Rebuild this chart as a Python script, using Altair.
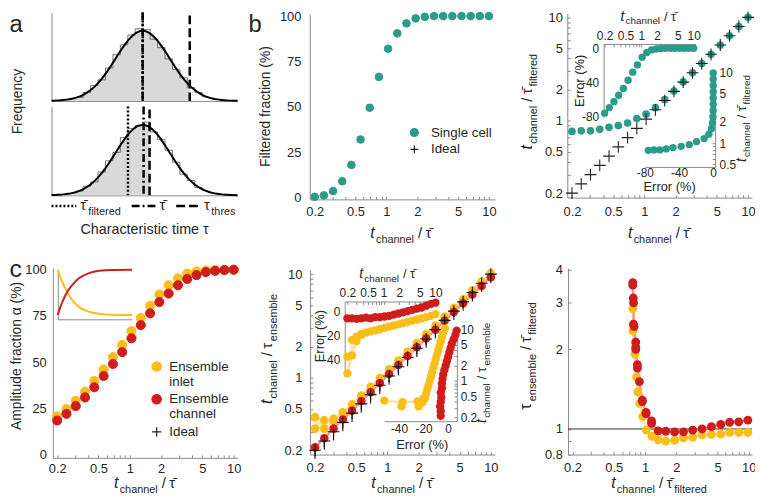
import altair as alt
import pandas as pd

# ---------------- data ----------------
T = [0.2, 0.2457, 0.3019, 0.371, 0.4558, 0.5601, 0.6882, 0.8456, 1.039, 1.277,
     1.569, 1.927, 2.368, 2.91, 3.575, 4.393, 5.398, 6.632, 8.149, 10.0]

# panel a : distribution of characteristic times
G_TAU = [0.0, 0.15, 0.4, 0.65, 0.9, 1.15, 1.4, 1.65, 1.9, 2.15, 2.4, 2.65, 2.9, 3.15,
         3.4, 3.65, 3.9, 4.15, 4.4, 4.65, 4.9, 5.15, 5.4, 5.65, 5.9, 6.15, 6.4, 6.65,
         6.9, 7.15, 7.4, 7.65, 7.9, 8.15, 8.4, 8.65, 8.9, 9.15, 9.4, 9.65, 10.0]
G_VAL = [0.0033, 0.0047, 0.0081, 0.0136, 0.0222, 0.0353, 0.054, 0.081, 0.118, 0.166,
         0.226, 0.300, 0.386, 0.483, 0.586, 0.690, 0.788, 0.875, 0.942, 0.985, 1.0,
         0.985, 0.942, 0.875, 0.788, 0.690, 0.586, 0.483, 0.386, 0.300, 0.226, 0.166,
         0.118, 0.081, 0.054, 0.0353, 0.0222, 0.0136, 0.0081, 0.0047, 0.002]
HIST_C = [1.5, 1.9, 2.3, 2.7, 3.1, 3.5, 3.9, 4.3, 4.7, 5.1, 5.5, 5.9, 6.3, 6.7, 7.1, 7.5, 7.9, 8.3]
HIST_TOP = [0.05, 0.12, 0.22, 0.30, 0.47, 0.66, 0.80, 0.94, 1.03, 1.02, 0.88, 0.76, 0.60, 0.45, 0.33, 0.19, 0.12, 0.06]
HIST_BOT = [0.06, 0.13, 0.19, 0.33, 0.49, 0.61, 0.82, 0.95, 0.99, 1.04, 0.90, 0.79, 0.64, 0.47, 0.30, 0.21, 0.11, 0.07]
TOP_THR, TOP_THR_G = 7.43, 0.218
BOT_THR, BOT_THR_G = 5.27, 0.968
TOP_MARKS = {"tau": [4.9, 4.9, 7.43], "kind": ["dot", "dashdot", "dash"], "top": [1.26, 1.26, 1.22]}
BOT_MARKS = {"tau": [4.11, 4.95, 5.27], "kind": ["dot", "dashdot", "dash"], "top": [1.26, 1.26, 1.22]}

# panel b
B_FRAC = [0.4, 1.2, 3.6, 9, 18, 32, 49.5, 66.5, 82, 90.5, 96, 98.7, 99.6, 100, 100, 100, 100, 100, 100, 100]
B_RATIO = [0.79, 0.80, 0.80, 0.828, 0.865, 0.90, 0.95, 1.05, 1.16, 1.34, 1.60, 1.94, 2.375,
           2.913, 3.575, 4.393, 5.398, 6.632, 8.149, 10.0]
B_ERR = [-76, -69.5, -62.5, -55, -47, -37.5, -28, -19.5, -10.5, -5, -2, -0.8, -0.3, -0.1,
         0, 0, 0, 0, 0, 0]

# panel c left
C_IN = [20.6, 24.6, 29.1, 34, 39.8, 46, 52.7, 59.3, 66.8, 73.9, 80.5, 86.6, 91.6, 95.3,
        97.9, 99.1, 99.6, 99.9, 100, 100]
C_CH = [18.4, 22, 26.2, 30.9, 36.4, 42.5, 49, 55.4, 62.9, 70, 76.4, 82.5, 87.1, 91.6, 95,
        97.1, 98.7, 99.4, 99.8, 100]
INS_T = [0, 0.0333, 0.0667, 0.1, 0.133, 0.2, 0.289, 0.422, 0.556, 0.73, 1.0]
INS_RED = [0.086, 0.24, 0.366, 0.475, 0.566, 0.70, 0.834, 0.934, 0.98, 0.998, 1.0]
INS_YEL = [1.0, 0.86, 0.734, 0.63, 0.534, 0.38, 0.246, 0.154, 0.114, 0.092, 0.085]

# panel c middle
CM_YA = [0.417, 0.390, 0.403, 0.458, 0.556, 0.675, 0.819, 0.995, 1.208, 1.468, 1.783,
         2.165, 2.631, 3.198, 3.886, 4.724, 5.743, 6.981, 8.489, 10.26]
CM_YB = [0.323, 0.323, 0.382, 0.464]
CM_R = [0.213, 0.261, 0.323, 0.395, 0.482, 0.596, 0.724, 0.890, 1.088, 1.330, 1.618,
        1.966, 2.392, 2.910, 3.540, 4.307, 5.241, 6.346, 7.688, 9.346]
CM_LOW = [0.165, 0.202, 0.248, 0.305, 0.375, 0.46, 0.566, 0.695, 0.854, 1.05, 1.29, 1.584,
          1.946, 2.39, 2.94, 3.61, 4.44, 5.45, 6.70, 8.22]
CM_EYA = [-52, -37, -25, -19, -18, -17, -16, -15, -14, -13, -12, -11, -10, -9, -8, -7,
          -6, -5, -4, -2.5]
CM_EYB = [-38, -24, -21, -20]
CM_ER = [-6, -6, -6.5, -6, -5.5, -6, -5, -5, -4.5, -4, -3, -2, -1, 0, 1, 2, 3, 4.5, 6, 7]

# panel c right
CR_RX = [0.762, 0.762, 0.77, 0.775, 0.775, 0.785, 0.814, 0.814, 0.814, 0.845, 0.845, 0.883,
         0.942, 0.942, 1.022, 1.022, 1.156, 1.156, 1.339, 1.585, 1.93, 2.35, 2.88, 3.55,
         4.36, 5.37, 6.54, 8.0, 9.8]
CR_RY = [3.58, 3.50, 3.13, 3.0, 2.49, 2.44, 2.13, 2.04, 2.0, 1.75, 1.70, 1.51, 1.285, 1.27,
         1.156, 1.14, 1.072, 1.049, 0.984, 0.98, 0.975, 0.975, 0.99, 1.0, 1.02, 1.04, 1.06,
         1.064, 1.08]
CR_YX = [0.762, 0.77, 0.762, 0.8, 0.83, 0.85, 0.89, 0.95, 1.03, 1.17, 1.34, 1.585, 1.93,
         2.35, 2.88, 3.55, 4.36, 5.37, 6.54, 8.0, 9.8]
CR_YY = [2.85, 2.49, 2.35, 1.92, 1.57, 1.38, 1.25, 1.114, 0.99, 0.937, 0.91, 0.90, 0.905,
         0.925, 0.93, 0.95, 0.953, 0.957, 0.97, 0.97, 0.97]

LOG_TICKS = [0.2, 0.5, 1, 2, 5, 10]
MINOR = [0.2, 0.3, 0.4, 0.5, 0.6, 0.7, 0.8, 0.9, 1, 2, 3, 4, 5, 6, 7, 8, 9, 10]
MINOR_HALF = [0.5, 0.6, 0.7, 0.8, 0.9, 1, 2, 3, 4, 5, 6, 7, 8, 9, 10]
MINOR_R = [0.8, 0.9, 1, 2, 3, 4]

# ---------------- style ----------------
W, H = 755, 494
FONT = "Liberation Sans"
TXT = "#262626"
AX = "#8a8a8a"
TEAL = "#2a9c88"
YEL = "#fbbd17"
RED = "#d01c1c"
LYEL = "#fbe3a0"
LRED = "#ee9a90"
GREY = "#d9d9d9"
CROSS = "M-1,0H1M0,-1V1"
DUMMY = pd.DataFrame({"k": [0]})


def px(x):
    return x - 8


def py(y):
    return y - 8


def xs(dom, a, b, log=True):
    if log:
        return alt.Scale(type="log", domain=dom, range=[px(a), px(b)], nice=False)
    return alt.Scale(type="linear", domain=dom, range=[px(a), px(b)], nice=False, zero=False)


def ys(dom, bottom, top, log=True):
    if log:
        return alt.Scale(type="log", domain=dom, range=[py(bottom), py(top)], nice=False)
    return alt.Scale(type="linear", domain=dom, range=[py(bottom), py(top)], nice=False, zero=False)


def offset_for(orient, pos):
    if orient == "bottom":
        return py(pos) - H
    if orient == "top":
        return -py(pos)
    if orient == "left":
        return -px(pos)
    return px(pos) - W


def ax(orient, pos, values=None, fs=13, pad=4, labels=True):
    kw = dict(orient=orient, offset=offset_for(orient, pos), title=None, grid=False, ticks=False,
              domainColor=AX, domainWidth=1, labels=labels, labelFont=FONT,
              labelFontSize=fs, labelColor=TXT, labelPadding=pad, labelFlush=False,
              labelOverlap=False, labelExpr="'' + datum.value")
    if values is not None:
        kw["values"] = values
    return alt.Axis(**kw)


def tick_ax(orient, pos, values, size=3):
    # an axis of ticks only, flipped so that the ticks point into the plot
    return alt.Axis(orient=orient, offset=offset_for(orient, pos), values=values, ticks=True,
                    tickSize=size, tickColor=AX, tickWidth=1, labels=False, domain=False,
                    grid=False, title=None)


def tick_layer(xscale, xorient, xpos, xvals, yscale, yorient, ypos, yvals):
    d = pd.DataFrame({"a": [xscale.domain[0]], "b": [yscale.domain[0]]})
    xa = tick_ax(xorient, xpos, xvals) if xvals else None
    ya = tick_ax(yorient, ypos, yvals) if yvals else None
    return alt.Chart(d).mark_point(opacity=0).encode(
        x=alt.X("a:Q", scale=xscale, axis=xa), y=alt.Y("b:Q", scale=yscale, axis=ya))


def text(txt, x, y, fs, angle=0, align="left", baseline="alphabetic", italic=False):
    return alt.Chart(DUMMY).mark_text(
        text=txt, font=FONT, fontSize=fs, angle=angle, align=align, baseline=baseline,
        fontStyle="italic" if italic else "normal", color=TXT
    ).encode(x=alt.value(px(x)), y=alt.value(py(y)))


CW = {"t": .278, "c": .5, "h": .556, "a": .556, "n": .556, "e": .556, "l": .222, " ": .278,
      "/": .278, "τ": .46, "\u0304": 0, "f": .278, "i": .222, "r": .333, "d": .556,
      "s": .5, "m": .833, "b": .556}


def tw(s, fs):
    return sum(CW.get(ch, .556) for ch in s) * fs


def frac_title(num, num_sub, den, den_sub, cx, cy, vertical=False, big=16, mid=15, small=11,
               drop=4.5):
    # (text, size, baseline drop, italic, extra space after)
    parts = [(num, big, 0, num == "t", 1.2), (num_sub, small, drop, False, 4.0),
             ("/", mid, 0, False, 3.5), (den, mid, 0, False, 0.8)]
    if den_sub:
        parts.append((den_sub, small, drop, False, 0))
    widths = [tw(p[0], p[1]) + p[4] for p in parts]
    total = sum(widths)
    out = []
    acc = 0
    for (s, fs, d, it, _), w in zip(parts, widths):
        if vertical:
            out.append(text(s, cx + d, cy + total / 2 - acc, fs, angle=270, italic=it))
        else:
            out.append(text(s, cx - total / 2 + acc, cy + d, fs, italic=it))
        acc += w
    return out


L = []

# ---------------- panel a ----------------
gdf = pd.DataFrame({"tau": G_TAU, "g": G_VAL})


def hist_panel(top, bottom, thr, thr_g, hist, marks):
    xsc = xs([0, 10], 52, 240, log=False)
    ysc = ys([0, 1.26], bottom, top, log=False)
    fd = gdf[gdf.tau <= thr]
    fd = pd.concat([fd, pd.DataFrame({"tau": [thr], "g": [thr_g]})], ignore_index=True)
    L.append(alt.Chart(fd).mark_area(color=GREY).encode(
        x=alt.X("tau:Q", scale=xsc, axis=ax("bottom", bottom, labels=False)),
        y=alt.Y("g:Q", scale=ysc, axis=ax("left", 52, labels=False))))
    hd = pd.DataFrame({"c": HIST_C, "h": hist})
    L.append(alt.Chart(hd).mark_line(interpolate="step", color="#555", strokeWidth=0.8).encode(
        x=alt.X("c:Q", scale=xsc, axis=None), y=alt.Y("h:Q", scale=ysc, axis=None)))
    L.append(alt.Chart(gdf).mark_line(interpolate="monotone", color="black", strokeWidth=2).encode(
        x=alt.X("tau:Q", scale=xsc, axis=None), y=alt.Y("g:Q", scale=ysc, axis=None)))
    md = pd.DataFrame(marks).assign(bot=0.0)
    L.append(alt.Chart(md).mark_rule(color="black", strokeWidth=2.5).encode(
        x=alt.X("tau:Q", scale=xsc, axis=None),
        y=alt.Y("top:Q", scale=ysc, axis=None), y2="bot:Q",
        strokeDash=alt.StrokeDash("kind:N", scale=alt.Scale(
            domain=["dot", "dashdot", "dash"], range=[[2, 2], [8, 3, 2, 3], [9, 4]]), legend=None)))


hist_panel(10, 99.3, TOP_THR, TOP_THR_G, HIST_TOP, TOP_MARKS)
hist_panel(105, 194.7, BOT_THR, BOT_THR_G, HIST_BOT, BOT_MARKS)

# key under panel a
for (x0, x1, dash) in [(52, 77, [2, 2]), (133, 158, [8, 3, 2, 3]), (178, 201, [9, 4])]:
    L.append(alt.Chart(DUMMY).mark_rule(color="black", strokeWidth=2.5, strokeDash=dash).encode(
        x=alt.value(px(x0)), x2=alt.value(px(x1)), y=alt.value(py(205.5))))
L += [text("τ\u0304", 81, 209.5, 15), text("filtered", 89, 214.5, 11),
      text("τ\u0304", 161, 209.5, 15),
      text("τ", 206, 209.5, 15), text("thres", 213.5, 214.5, 11),
      text("Characteristic time τ", 146, 234, 14.5, align="center"),
      text("Frequency", 22, 100, 14, angle=270, align="center")]

# ---------------- panel b left ----------------
dom_b = ["Single cell", "Ideal"]
leg_b = dict(orient="none", legendX=px(412), legendY=py(124.5), title=None, labelFont=FONT,
             labelFontSize=13.5, labelColor=TXT, symbolSize=64, symbolStrokeWidth=1.2,
             labelOffset=10, rowPadding=2, padding=0)
bl = pd.DataFrame({"t": T, "v": B_FRAC, "s": ["Single cell"] * len(T)})
blx = xs([0.179, 11.4], 313, 500)
bly = ys([-1, 101], 198.8, 11.7, log=False)
L.append(tick_layer(blx, "top", 198.8, MINOR, bly, "right", 313, None))
L.append(alt.Chart(bl).mark_point(filled=True, size=60, opacity=1, strokeWidth=1).encode(
    x=alt.X("t:Q", scale=blx, axis=ax("bottom", 198.8, LOG_TICKS, pad=6.4)),
    y=alt.Y("v:Q", scale=bly, axis=ax("left", 313, [0, 25, 50, 75, 100], pad=9)),
    fill=alt.Fill("s:N", scale=alt.Scale(domain=dom_b, range=[TEAL, "#222"]), legend=alt.Legend(**leg_b)),
    stroke=alt.Stroke("s:N", scale=alt.Scale(domain=dom_b, range=[TEAL, "#222"]), legend=alt.Legend(**leg_b)),
    shape=alt.Shape("s:N", scale=alt.Scale(domain=dom_b, range=["circle", CROSS]), legend=alt.Legend(**leg_b))))
L.append(text("Filtered fraction (%)", 273, 105, 14, angle=270, align="center"))
L += frac_title("t", "channel", "τ\u0304", None, 406, 238)

# ---------------- panel b right ----------------
br = pd.DataFrame({"t": T, "r": B_RATIO, "e": B_ERR})
bx = xs([0.1804, 10.9], 573.3, 759.9)
by = ys([0.181, 10.9], 197, 10.9)
L.append(tick_layer(bx, "top", 197, MINOR, by, "right", 573.3, MINOR))
L.append(alt.Chart(br).mark_point(filled=True, size=60, opacity=1, color=TEAL).encode(
    x=alt.X("t:Q", scale=bx, axis=ax("bottom", 197, LOG_TICKS, pad=8.5)),
    y=alt.Y("r:Q", scale=by, axis=ax("left", 573.3, LOG_TICKS, pad=5))))
L.append(alt.Chart(br).mark_point(shape=CROSS, filled=False, size=144, opacity=1, color="#222",
                                  strokeWidth=1.1).encode(
    x=alt.X("t:Q", scale=bx, axis=None), y=alt.Y("t:Q", scale=by, axis=None)))
L += frac_title("t", "channel", "τ\u0304", None, 666.5, 238)
L += frac_title("t", "channel", "τ\u0304", "filtered", 538, 100, vertical=True)
# inset 1 (error vs t)
b1x = xs([0.1915, 10.91], 610, 703)
b1y = ys([-81, 5], 116, 41.7, log=False)
L.append(tick_layer(b1x, "bottom", 41.7, MINOR, b1y, "right", 610, None))
L.append(alt.Chart(br).mark_point(filled=True, size=55, opacity=1, color=TEAL).encode(
    x=alt.X("t:Q", scale=b1x, axis=ax("top", 41.7, LOG_TICKS, fs=12, pad=2)),
    y=alt.Y("e:Q", scale=b1y, axis=ax("left", 610, [0, -40, -80], fs=12, pad=5))))
L.append(text("Error (%)", 590, 79, 13, angle=270, align="center"))
L += frac_title("t", "channel", "τ\u0304", None, 656, 18, big=14, mid=13, small=10, drop=4)
# inset 2 (ratio vs error)
b2x = xs([-80, 2.3], 651.7, 722.7, log=False)
b2y = ys([0.458, 11.0], 166, 68)
L.append(tick_layer(b2x, "top", 166, None, b2y, "left", 722.7, MINOR_HALF))
L.append(alt.Chart(br).mark_point(filled=True, size=55, opacity=1, color=TEAL).encode(
    x=alt.X("e:Q", scale=b2x, axis=ax("bottom", 166, [-80, -40, 0], fs=12, pad=0.5)),
    y=alt.Y("r:Q", scale=b2y, axis=ax("right", 722.7, [0.5, 1, 2, 5, 10], fs=12, pad=4))))
L.append(text("Error (%)", 676.7, 190.5, 13, align="center"))
L += frac_title("t", "channel", "τ\u0304", "filtered", 753.5, 117, vertical=True, big=14, mid=13,
                small=10, drop=4)

# ---------------- panel c left ----------------
dom_c = ["Ensemble|inlet", "Ensemble|channel", "Ideal"]
leg_c = dict(orient="none", legendX=px(151.5), legendY=py(361), title=None, labelFont=FONT,
             labelFontSize=13.5, labelColor=TXT, symbolSize=90, symbolStrokeWidth=1.2,
             labelOffset=6, rowPadding=3, padding=0, labelExpr="split(datum.label, '|')")
cl = pd.DataFrame({"t": T + T, "v": C_IN + C_CH,
                   "s": ["Ensemble|inlet"] * len(T) + ["Ensemble|channel"] * len(T)})
clx = xs([0.1816, 10.9], 53.3, 240)
cly = ys([-1.8, 101], 460, 268, log=False)
L.append(tick_layer(clx, "top", 460, MINOR, cly, "right", 53.3, None))
L.append(alt.Chart(cl).mark_point(filled=True, size=85, opacity=1, strokeWidth=1).encode(
    x=alt.X("t:Q", scale=clx, axis=ax("bottom", 460, LOG_TICKS, pad=4.5)),
    y=alt.Y("v:Q", scale=cly, axis=ax("left", 53.3, [0, 25, 50, 75, 100], pad=6.6)),
    fill=alt.Fill("s:N", scale=alt.Scale(domain=dom_c, range=[YEL, RED, "#222"]), legend=alt.Legend(**leg_c)),
    stroke=alt.Stroke("s:N", scale=alt.Scale(domain=dom_c, range=[YEL, RED, "#222"]), legend=alt.Legend(**leg_c)),
    shape=alt.Shape("s:N", scale=alt.Scale(domain=dom_c, range=["circle", "circle", CROSS]), legend=alt.Legend(**leg_c))))
L.append(text("Amplitude fraction α (%)", 21, 357, 14, angle=270, align="center"))
L += frac_title("t", "channel", "τ\u0304", None, 147, 491)
# inset with the two exponential curves
ins = pd.DataFrame({"t": INS_T + INS_T, "v": INS_YEL + INS_RED,
                    "s": ["in"] * len(INS_T) + ["ch"] * len(INS_T)})
L.append(alt.Chart(ins).mark_line(interpolate="monotone", strokeWidth=2).encode(
    x=alt.X("t:Q", scale=xs([0, 1], 58.3, 133.3, log=False), axis=ax("bottom", 320, labels=False)),
    y=alt.Y("v:Q", scale=ys([0, 1], 320, 270, log=False), axis=ax("left", 58.3, labels=False)),
    color=alt.Color("s:N", scale=alt.Scale(domain=["in", "ch"], range=[YEL, RED]), legend=None)))

# ---------------- panel c middle ----------------
cm = pd.DataFrame({"t": T, "ya": CM_YA, "r": CM_R, "eya": CM_EYA, "er": CM_ER, "low": CM_LOW,
                   "i": list(range(len(T)))})
cmb = pd.DataFrame({"t": T[:4], "ya": CM_YA[:4], "yb": CM_YB, "eya": CM_EYA[:4], "eyb": CM_EYB})
mx = xs([0.179, 10.92], 313.3, 500)
my = ys([0.1816, 10.99], 456.7, 270)
L.append(tick_layer(mx, "top", 456.7, MINOR, my, "right", 313.3, MINOR))
L.append(alt.Chart(cmb).mark_area(color=LYEL, opacity=0.8).encode(
    x=alt.X("t:Q", scale=mx, axis=ax("bottom", 456.7, LOG_TICKS, pad=7.6)),
    y=alt.Y("ya:Q", scale=my, axis=ax("left", 313.3, LOG_TICKS, pad=8.3)), y2="yb:Q"))
L.append(alt.Chart(cm).mark_line(color=LYEL, strokeWidth=2.5).encode(
    x=alt.X("t:Q", scale=mx, axis=None), y=alt.Y("ya:Q", scale=my, axis=None)))
L.append(alt.Chart(cm).mark_line(color=LRED, strokeWidth=2.5).encode(
    x=alt.X("t:Q", scale=mx, axis=None), y=alt.Y("r:Q", scale=my, axis=None)))
L.append(alt.Chart(cmb).mark_point(filled=True, size=75, opacity=1, color=YEL).encode(
    x=alt.X("t:Q", scale=mx, axis=None), y=alt.Y("yb:Q", scale=my, axis=None)))
L.append(alt.Chart(cm).mark_point(filled=True, size=75, opacity=1, color=YEL).encode(
    x=alt.X("t:Q", scale=mx, axis=None), y=alt.Y("ya:Q", scale=my, axis=None)))
L.append(alt.Chart(cm).mark_point(filled=True, size=75, opacity=1, color=RED).encode(
    x=alt.X("t:Q", scale=mx, axis=None), y=alt.Y("r:Q", scale=my, axis=None)))
L.append(alt.Chart(cm).mark_rule(color="#111", strokeWidth=1.1).encode(
    x=alt.X("t:Q", scale=mx, axis=None), y=alt.Y("t:Q", scale=my, axis=None), y2="low:Q"))
L.append(alt.Chart(cm).mark_point(shape=CROSS, filled=False, size=144, opacity=1, color="#111",
                                  strokeWidth=1.1).encode(
    x=alt.X("t:Q", scale=mx, axis=None), y=alt.Y("t:Q", scale=my, axis=None)))
L += frac_title("t", "channel", "τ\u0304", None, 407, 491)
L += frac_title("t", "channel", "τ", "ensemble", 275, 350, vertical=True)
# inset 1 (error vs t)
ix = xs([0.1776, 10.9], 348.3, 442)
iy = ys([-50, 8], 372.3, 302, log=False)
L.append(tick_layer(ix, "bottom", 302, MINOR, iy, "right", 348.3, None))
L.append(alt.Chart(cmb).mark_area(color=LYEL, opacity=0.8).encode(
    x=alt.X("t:Q", scale=ix, axis=ax("top", 302, LOG_TICKS, fs=12, pad=2)),
    y=alt.Y("eya:Q", scale=iy, axis=ax("left", 348.3, [0, -20, -40], fs=12, pad=5)), y2="eyb:Q"))
L.append(alt.Chart(cm).mark_line(color=LYEL, strokeWidth=2.5).encode(
    x=alt.X("t:Q", scale=ix, axis=None), y=alt.Y("eya:Q", scale=iy, axis=None)))
L.append(alt.Chart(cmb).mark_point(filled=True, size=70, opacity=1, color=YEL).encode(
    x=alt.X("t:Q", scale=ix, axis=None), y=alt.Y("eyb:Q", scale=iy, axis=None)))
L.append(alt.Chart(cm).mark_point(filled=True, size=70, opacity=1, color=YEL).encode(
    x=alt.X("t:Q", scale=ix, axis=None), y=alt.Y("eya:Q", scale=iy, axis=None)))
L.append(alt.Chart(cm).mark_point(filled=True, size=70, opacity=1, color=RED).encode(
    x=alt.X("t:Q", scale=ix, axis=None), y=alt.Y("er:Q", scale=iy, axis=None)))
L.append(text("Error (%)", 327, 337, 13, angle=270, align="center"))
L += frac_title("t", "channel", "τ\u0304", None, 392, 278, big=14, mid=13, small=10, drop=4)
# inset 2 (ratio vs error)
jx = xs([-52, 7.2], 388.3, 461.7, log=False)
jy = ys([0.1675, 10.9], 423, 328)
L.append(tick_layer(jx, "top", 423, None, jy, "left", 461.7, MINOR))
L.append(alt.Chart(cm).mark_line(color=LYEL, strokeWidth=2.5).encode(
    x=alt.X("eya:Q", scale=jx, axis=ax("bottom", 423, [-40, -20, 0], fs=12, pad=2.5)),
    y=alt.Y("ya:Q", scale=jy, axis=ax("right", 461.7, LOG_TICKS, fs=12, pad=3.3)),
    order=alt.Order("i:Q")))
L.append(alt.Chart(cmb).mark_point(filled=True, size=70, opacity=1, color=YEL).encode(
    x=alt.X("eyb:Q", scale=jx, axis=None), y=alt.Y("yb:Q", scale=jy, axis=None)))
L.append(alt.Chart(cm).mark_point(filled=True, size=70, opacity=1, color=YEL).encode(
    x=alt.X("eya:Q", scale=jx, axis=None), y=alt.Y("ya:Q", scale=jy, axis=None)))
L.append(alt.Chart(cm).mark_point(filled=True, size=70, opacity=1, color=RED).encode(
    x=alt.X("er:Q", scale=jx, axis=None), y=alt.Y("r:Q", scale=jy, axis=None)))
L.append(text("Error (%)", 426.7, 451.5, 13, align="center"))
L += frac_title("t", "channel", "τ", "ensemble", 491, 374, vertical=True, big=14, mid=13,
                small=10, drop=4)

# ---------------- panel c right ----------------
rx = xs([0.181, 10.75], 574, 760)
ry = ys([0.8, 4.06], 456.7, 268.3)
L.append(tick_layer(rx, "top", 456.7, MINOR, ry, "right", 574, MINOR_R))
hl = pd.DataFrame({"x0": [0.181], "x1": [10.75], "y": [1.0]})
L.append(alt.Chart(hl).mark_rule(color="#333", strokeWidth=1).encode(
    x=alt.X("x0:Q", scale=rx, axis=ax("bottom", 456.7, LOG_TICKS, pad=7.6)), x2="x1:Q",
    y=alt.Y("y:Q", scale=ry, axis=ax("left", 574, [0.8, 1, 2, 3, 4], pad=5.7))))
cry = pd.DataFrame({"x": CR_YX, "y": CR_YY, "i": list(range(len(CR_YX)))})
crr = pd.DataFrame({"x": CR_RX, "y": CR_RY, "i": list(range(len(CR_RX)))})
L.append(alt.Chart(cry).mark_line(color=LYEL, strokeWidth=2.5).encode(
    x=alt.X("x:Q", scale=rx, axis=None), y=alt.Y("y:Q", scale=ry, axis=None), order="i:Q"))
L.append(alt.Chart(crr).mark_line(color=LRED, strokeWidth=2.5).encode(
    x=alt.X("x:Q", scale=rx, axis=None), y=alt.Y("y:Q", scale=ry, axis=None), order="i:Q"))
L.append(alt.Chart(cry).mark_point(filled=True, size=80, opacity=1, color=YEL).encode(
    x=alt.X("x:Q", scale=rx, axis=None), y=alt.Y("y:Q", scale=ry, axis=None)))
L.append(alt.Chart(crr).mark_point(filled=True, size=80, opacity=1, color=RED).encode(
    x=alt.X("x:Q", scale=rx, axis=None), y=alt.Y("y:Q", scale=ry, axis=None)))
L += frac_title("t", "channel", "τ\u0304", "filtered", 666, 491)
L += frac_title("τ", "ensemble", "τ\u0304", "filtered", 537, 357, vertical=True)

# panel letters
L += [text("a", 9.5, 30, 24), text("b", 251, 30, 24), text("c", 9.5, 277, 25)]

chart = alt.layer(*L).resolve_scale(
    x="independent", y="independent", color="independent", fill="independent",
    stroke="independent", shape="independent", strokeDash="independent"
).resolve_axis(x="independent", y="independent").properties(
    width=W, height=H, padding=0, background="white",
    autosize=alt.AutoSizeParams(type="none")
).configure_view(stroke=None)

chart.save("out.html", embed_options={"renderer": "svg", "actions": False})
